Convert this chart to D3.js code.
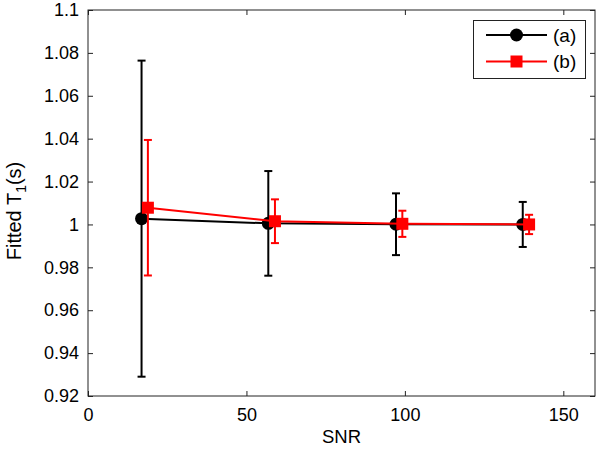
<!DOCTYPE html>
<html><head><meta charset="utf-8">
<script src="https://cdn.jsdelivr.net/npm/d3@7"></script>
<style>body{margin:0;background:#fff}svg text{font-family:Arial,"Liberation Sans",sans-serif}</style>
</head><body><svg id="c" width="600" height="450"></svg>
<script>
const snrA = [16.9, 56.9, 97.2, 137.2];
const meanA = [1.0027, 1.0005, 1.0001, 1.0000];
const errA = [0.0737, 0.0244, 0.0144, 0.0105];
const snrB = [18.9, 59.0, 99.2, 139.2];
const meanB = [1.0078, 1.0015, 1.0003, 1.0000];
const errB = [0.0316, 0.0102, 0.0061, 0.0045];
const xTicks = [0, 50, 100, 150];
const yTicks = [0.92, 0.94, 0.96, 0.98, 1, 1.02, 1.04, 1.06, 1.08, 1.1];
const seriesNames = ["(a)", "(b)"];

const svg = d3.select("#c");
const L = 88, R = 595, T = 10, B = 396;
const x = d3.scaleLinear().domain([0, 160]).range([L, R]);
const y = d3.scaleLinear().domain([0.92, 1.1]).range([B, T]);

const g = svg.append("g");
const fmtY = d => d3.format("")(+d.toFixed(2));
const ax = g.append("g").attr("transform", `translate(0,${B})`).call(d3.axisBottom(x).tickValues(xTicks).tickSize(-5).tickPadding(10));
const axT = g.append("g").attr("transform", `translate(0,${T})`).call(d3.axisTop(x).tickValues(xTicks).tickSize(-5).tickFormat(""));
const ay = g.append("g").attr("transform", `translate(${L},0)`).call(d3.axisLeft(y).tickValues(yTicks).tickSize(-5).tickPadding(9).tickFormat(fmtY));
const ayR = g.append("g").attr("transform", `translate(${R},0)`).call(d3.axisRight(y).tickValues(yTicks).tickSize(-5).tickFormat(""));
[ax, axT, ay, ayR].forEach(a => {
  a.select(".domain").remove();
  a.selectAll("line").attr("stroke", "#222").attr("stroke-width", 1);
  a.selectAll("text").attr("font-size", 18).attr("fill", "#000");
});
ax.selectAll("text").attr("dy", "0.85em");
g.append("rect").attr("x", L).attr("y", T).attr("width", R - L).attr("height", B - T)
  .attr("fill", "none").attr("stroke", "#222").attr("stroke-width", 1);

function drawSeries(xs, ms, es, color, marker) {
  const s = svg.append("g");
  const pts = xs.map((v, i) => ({x: v, m: ms[i], e: es[i]}));
  s.append("path").datum(pts)
    .attr("d", d3.line().x(d => x(d.x)).y(d => y(d.m)))
    .attr("fill", "none").attr("stroke", color).attr("stroke-width", 2);
  pts.forEach(d => {
    const cx = x(d.x), y1 = y(d.m + d.e), y2 = y(d.m - d.e);
    s.append("line").attr("x1", cx).attr("x2", cx).attr("y1", y1).attr("y2", y2).attr("stroke", color).attr("stroke-width", 2);
    [y1, y2].forEach(yy => s.append("line").attr("x1", cx - 4).attr("x2", cx + 4).attr("y1", yy).attr("y2", yy).attr("stroke", color).attr("stroke-width", 2));
  });
  pts.forEach(d => {
    if (marker === "circle") s.append("circle").attr("cx", x(d.x)).attr("cy", y(d.m)).attr("r", 6.5).attr("fill", color);
    else s.append("rect").attr("x", x(d.x) - 6).attr("y", y(d.m) - 6).attr("width", 12).attr("height", 12).attr("fill", color);
  });
}
drawSeries(snrA, meanA, errA, "#000", "circle");
drawSeries(snrB, meanB, errB, "#ff0000", "square");

const lg = svg.append("g");
lg.append("rect").attr("x", 473.5).attr("y", 20.5).attr("width", 112).attr("height", 58).attr("fill", "#fff").attr("stroke", "#222").attr("stroke-width", 1);
[["#000", "circle"], ["#ff0000", "square"]].forEach((c, i) => {
  const yy = 35 + i * 26.5;
  lg.append("line").attr("x1", 486).attr("x2", 547).attr("y1", yy).attr("y2", yy).attr("stroke", c[0]).attr("stroke-width", 2);
  if (c[1] === "circle") lg.append("circle").attr("cx", 516.5).attr("cy", yy).attr("r", 6.5).attr("fill", c[0]);
  else lg.append("rect").attr("x", 510.5).attr("y", yy - 6).attr("width", 12).attr("height", 12).attr("fill", c[0]);
  lg.append("text").attr("x", 553).attr("y", yy).attr("dy", "0.35em").attr("font-size", 19).text(seriesNames[i]);
});

svg.append("text").attr("x", (L + R) / 2).attr("y", 443).attr("text-anchor", "middle").attr("font-size", 18.5).text("SNR");
const yt = svg.append("text").attr("transform", `translate(21,${(T + B) / 2 + 8}) rotate(-90)`).attr("text-anchor", "middle").attr("font-size", 20);
yt.append("tspan").text("Fitted T");
yt.append("tspan").attr("font-size", 14).attr("dy", 5).text("1");
yt.append("tspan").attr("dy", -5).text("(s)");
</script></body></html>
